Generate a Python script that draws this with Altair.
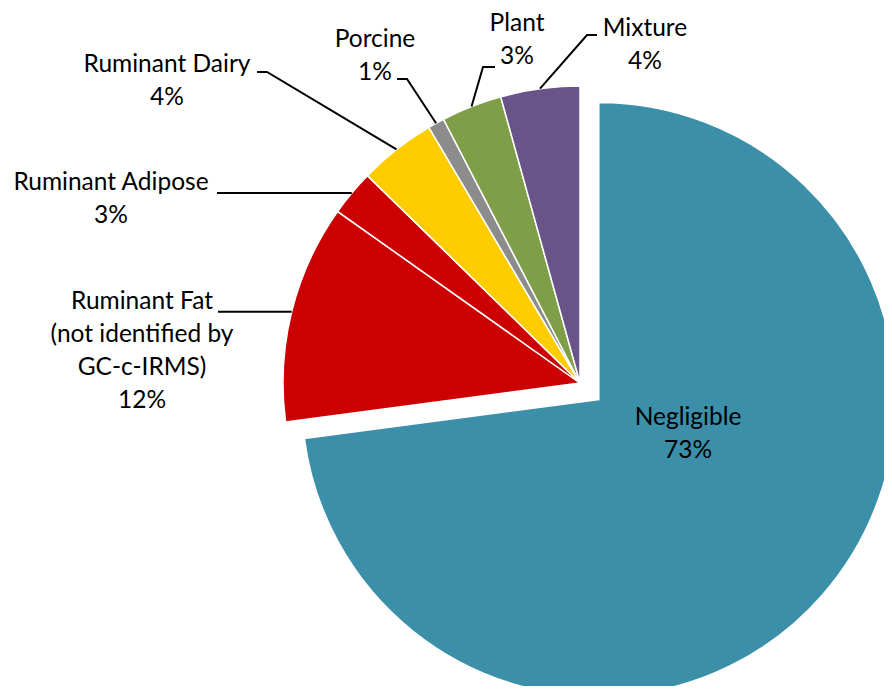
import math
import altair as alt
import pandas as pd

# ---------------- data ----------------
categories = ["Negligible", "Ruminant Fat", "Ruminant Adipose", "Ruminant Dairy",
              "Porcine", "Plant", "Mixture"]
label_names = ["Negligible", "Ruminant Fat\n(not identified by\nGC-c-IRMS)", "Ruminant Adipose",
               "Ruminant Dairy", "Porcine", "Plant", "Mixture"]
shares = [72.9, 11.9, 2.5, 4.2, 0.9, 3.3, 4.3]
pct_labels = ["73%", "12%", "3%", "4%", "1%", "3%", "4%"]
colors = ["#3B8FA8", "#CC0000", "#CC0000", "#FFCC00", "#8C8C8C", "#7F9E48", "#685489"]

# ---------------- layout (page pixels) ----------------
M = 8
W, H = 876, 678
CX, CY = 580 - M, 383 - M
R = 297
EXPLODE = 25
# centre of the first text line of each label
text_pos = [(688, 418), (142, 302), (111, 183), (167, 65), (375, 40), (517, 24), (645, 29)]
leader_end_x = [None, 218, 217, 257, 397, 495, 597]
leader_elbow_x = [None, None, None, 267, 407, 483, 587]
leader_y = [None, None, None, 72, 79, 67, 35]

# ---------------- derived tables ----------------
total = sum(shares)
rows, cum = [], 0.0
for c, s in zip(categories, shares):
    start = cum / total * 100
    cum += s
    end = cum / total * 100
    rows.append({"category": c, "start": start, "end": end})
slices = pd.DataFrame(rows)

def mid_angle(i):
    return (slices.loc[i, "start"] + slices.loc[i, "end"]) / 2 / 100 * 2 * math.pi

a0 = mid_angle(0)
EX_DX, EX_DY = EXPLODE * math.sin(a0), -EXPLODE * math.cos(a0)

line_rows = []
for i in range(1, len(categories)):
    a = mid_angle(i)
    px, py = CX + R * math.sin(a), CY - R * math.cos(a)
    if leader_elbow_x[i] is None:
        pts = [(leader_end_x[i] - M, py), (px, py)]
    else:
        ly = leader_y[i] - M
        pts = [(leader_end_x[i] - M, ly), (leader_elbow_x[i] - M, ly), (px, py)]
    for k, (x, y) in enumerate(pts):
        line_rows.append({"label": categories[i], "k": k, "x": x, "y": y})
lines = pd.DataFrame(line_rows)

texts = pd.DataFrame({
    "label": [n + "\n" + p for n, p in zip(label_names, pct_labels)],
    "x": [p[0] - M for p in text_pos],
    "y": [p[1] - M for p in text_pos],
})

theta_scale = alt.Scale(domain=[0, 100], range=[0, 2 * math.pi])
color_scale = alt.Scale(domain=categories, range=colors)
xs = alt.Scale(domain=[0, W], nice=False, zero=False)
ys = alt.Scale(domain=[0, H], nice=False, zero=False, reverse=True)

base_arc = alt.Chart(slices).mark_arc(stroke="white", strokeWidth=1.5, radius=R).encode(
    theta=alt.Theta("start:Q", scale=theta_scale, stack=None),
    theta2="end:Q",
    color=alt.Color("category:N", scale=color_scale, legend=None),
)

arcs_rest = base_arc.transform_filter(alt.datum.category != "Negligible").encode(
    x=alt.value(CX), y=alt.value(CY))
arc_neg = base_arc.transform_filter(alt.datum.category == "Negligible").encode(
    x=alt.value(CX + EX_DX), y=alt.value(CY + EX_DY))

leaders = alt.Chart(lines).mark_line(color="black", strokeWidth=2).encode(
    x=alt.X("x:Q", scale=xs, axis=None),
    y=alt.Y("y:Q", scale=ys, axis=None),
    detail="label:N",
    order="k:Q",
)

labels = alt.Chart(texts).mark_text(
    font="Lato", fontSize=24.5, lineHeight=33, lineBreak="\n",
    align="center", baseline="middle", color="black",
).encode(
    x=alt.X("x:Q", scale=xs, axis=None),
    y=alt.Y("y:Q", scale=ys, axis=None),
    text="label:N",
)

chart = alt.layer(arcs_rest, arc_neg, leaders, labels).properties(
    width=W, height=H, padding=0, autosize=alt.AutoSizeParams(type="none"),
    background="white",
).configure_view(stroke=None)

chart.save("out.html", embed_options={"renderer": "svg", "actions": False})
